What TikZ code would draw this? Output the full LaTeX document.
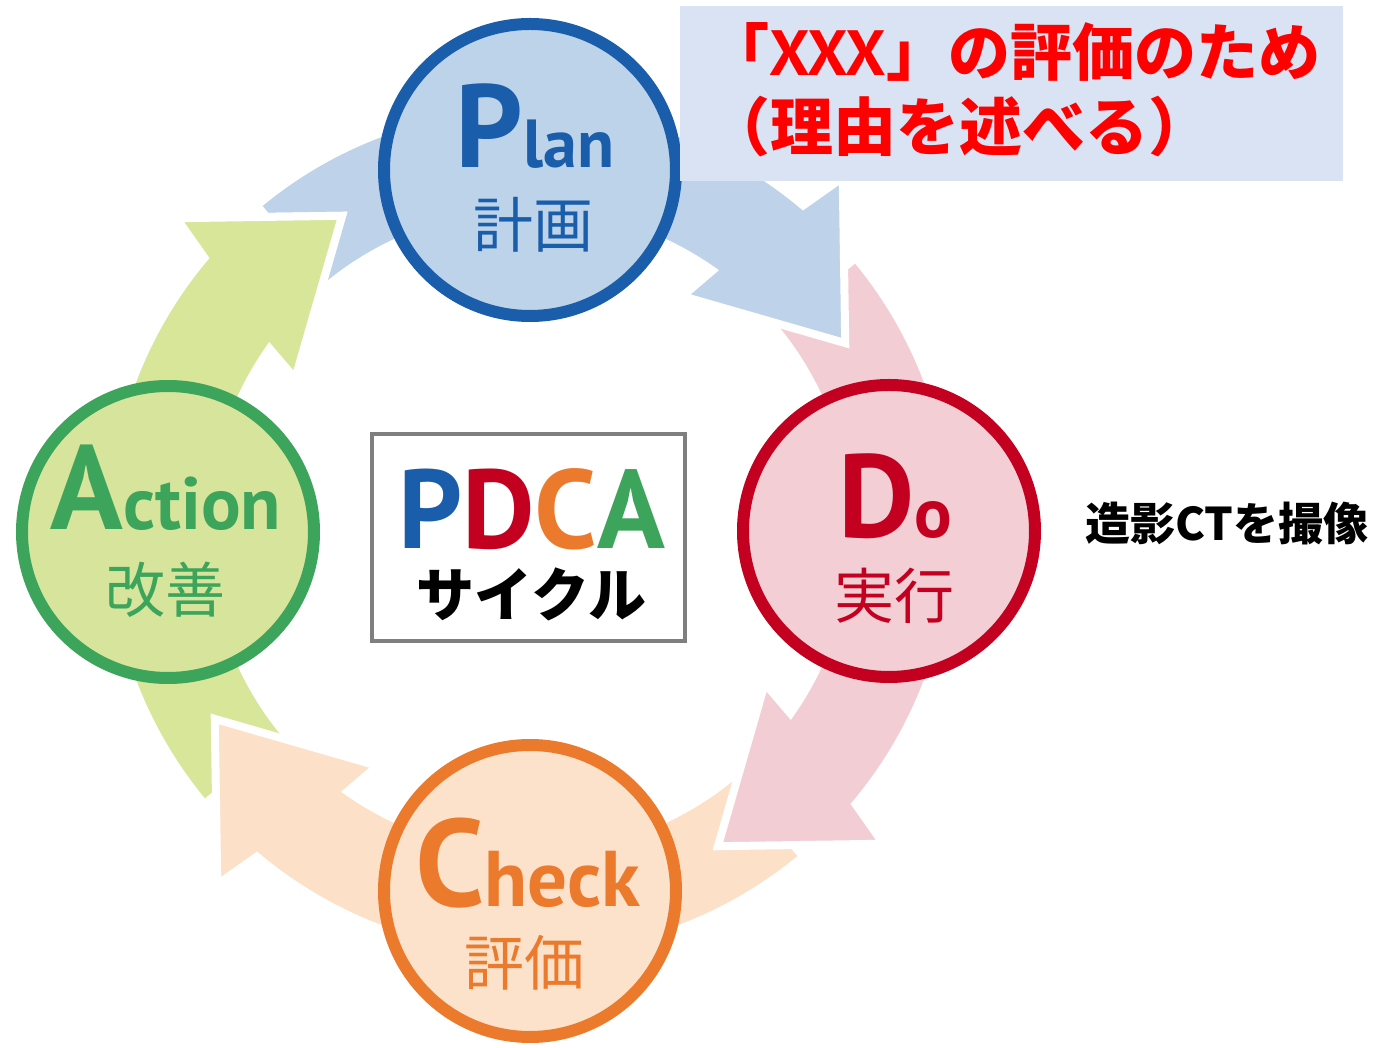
\documentclass[tikz,border=0pt]{standalone}
\usepackage{fontspec}
\setmainfont{PT Sans}
\newfontfamily\jp{Noto Sans CJK JP}
\definecolor{planC}{HTML}{1A5DAB}
\definecolor{planF}{HTML}{BDD3EA}
\definecolor{doC}{HTML}{C3001F}
\definecolor{doF}{HTML}{F3CED5}
\definecolor{checkC}{HTML}{EC7A2C}
\definecolor{checkF}{HTML}{FCE2CB}
\definecolor{actC}{HTML}{3DA45C}
\definecolor{actF}{HTML}{D7E59C}
\definecolor{arrB}{HTML}{BED3E9}
\definecolor{arrP}{HTML}{F3CDD4}
\definecolor{arrO}{HTML}{FCE1C8}
\definecolor{arrG}{HTML}{D8E69A}
\definecolor{noteF}{HTML}{DAE3F3}
\definecolor{boxC}{HTML}{7F7F7F}
\newcommand\pdcaArrowShape[1]{(-130+#1:425) arc[start angle=-130+#1, end angle=-50+#1, radius=425] -- (-48.5+#1:472) -- (-30.8+#1:367) -- (-57+#1:280) -- (-55+#1:318) arc[start angle=-55+#1, end angle=-130+#1, radius=318] -- cycle}
\newcommand\pdcaHeadClip[1]{(-64+#1:230) -- (-64+#1:530) -- (-18+#1:530) -- (-18+#1:230) -- cycle}
\newcommand\bigsmall[4]{{\fontsize{#1}{#1}\selectfont #2}{\fontsize{#3}{#3}\selectfont #4}}
\begin{document}
\begin{tikzpicture}[x=1pt,y=-1pt,
  arrowband/.style={draw=white, line width=8pt, line join=miter},
  phase/.style={circle, minimum size=292pt, inner sep=0pt, line width=12pt},
  jpcap/.style={anchor=base, inner sep=0pt, font=\jp\fontsize{60}{60}\selectfont},
  latcap/.style={anchor=base, inner sep=0pt, font=\bfseries}]
\useasboundingbox (-530,-531) rectangle (857,517);
% arrows, first pass
\fill[arrB, arrowband] \pdcaArrowShape{0};
\fill[arrP, arrowband] \pdcaArrowShape{90};
\fill[arrO, arrowband] \pdcaArrowShape{180};
\fill[arrG, arrowband] \pdcaArrowShape{270};
% heads on top
\begin{scope}\clip \pdcaHeadClip{0};\fill[arrB, arrowband] \pdcaArrowShape{0};\end{scope}
\begin{scope}\clip \pdcaHeadClip{90};\fill[arrP, arrowband] \pdcaArrowShape{90};\end{scope}
\begin{scope}\clip \pdcaHeadClip{180};\fill[arrO, arrowband] \pdcaArrowShape{180};\end{scope}
\begin{scope}\clip \pdcaHeadClip{270};\fill[arrG, arrowband] \pdcaArrowShape{270};\end{scope}
% circles
\node[phase, draw=planC, fill=planF] (plan) at (0,-361) {};
\node[phase, draw=doC, fill=doF] (do) at (359,0) {};
\node[phase, draw=checkC, fill=checkF] (check) at (0,360) {};
\node[phase, draw=actC, fill=actF] (act) at (-362,1) {};
% circle texts
\node[latcap, text=planC] (planT) at (5,-363) {\bigsmall{118}{P}{68}{lan}};
\node[jpcap, text=planC] (planJ) at (4,-283) {計画};
\node[latcap, text=doC] (doT) at (365,7) {\bigsmall{118}{D}{70}{o}};
\node[jpcap, text=doC] (doJ) at (364,88) {実行};
\node[latcap, text=checkC] (checkT) at (-2,376) {\bigsmall{124}{C}{79}{heck}};
\node[jpcap, text=checkC] (checkJ) at (-5,455) {評価};
\node[latcap, text=actC] (actT) at (-364,-1) {\bigsmall{120}{A}{74}{ction}};
\node[jpcap, text=actC] (actJ) at (-364,82) {改善};
% PDCA box
\node[draw=boxC, line width=4pt, fill=white, minimum width=313pt, minimum height=207pt, inner sep=0pt] (pdca) at (-1.5,6.5) {};
\node[anchor=base, inner sep=0pt] (pdcaT) at (1.5,18) {\makebox[0pt][c]{\bfseries\fontsize{112}{112}\selectfont\textcolor{planC}{P}\textcolor{doC}{D}\textcolor{checkC}{C}\textcolor{actC}{A}}\makebox[0pt][c]{\raisebox{-68pt}[0pt][0pt]{\jp\bfseries\fontsize{58}{58}\selectfont サイクル}}};
% note box
\node[fill=noteF, minimum width=663pt, minimum height=175pt, inner sep=0pt] (note) at (481.5,-437.5) {};
\node[anchor=base west, inner sep=0pt, text=red, font=\jp\bfseries\fontsize{62}{62}\selectfont] (note1) at (177,-455) {「{\rmfamily\bfseries\fontsize{64}{64}\selectfont XXX}」の評価のため};
\node[anchor=base west, inner sep=0pt, text=red, font=\jp\bfseries\fontsize{63}{63}\selectfont] (note2) at (177,-380) {（理由を述べる）};
% side label
\node[anchor=base west, inner sep=0pt, font=\jp\bfseries\fontsize{45}{45}\selectfont] (ct) at (555,10) {造影CTを撮像};
\end{tikzpicture}
\end{document}
